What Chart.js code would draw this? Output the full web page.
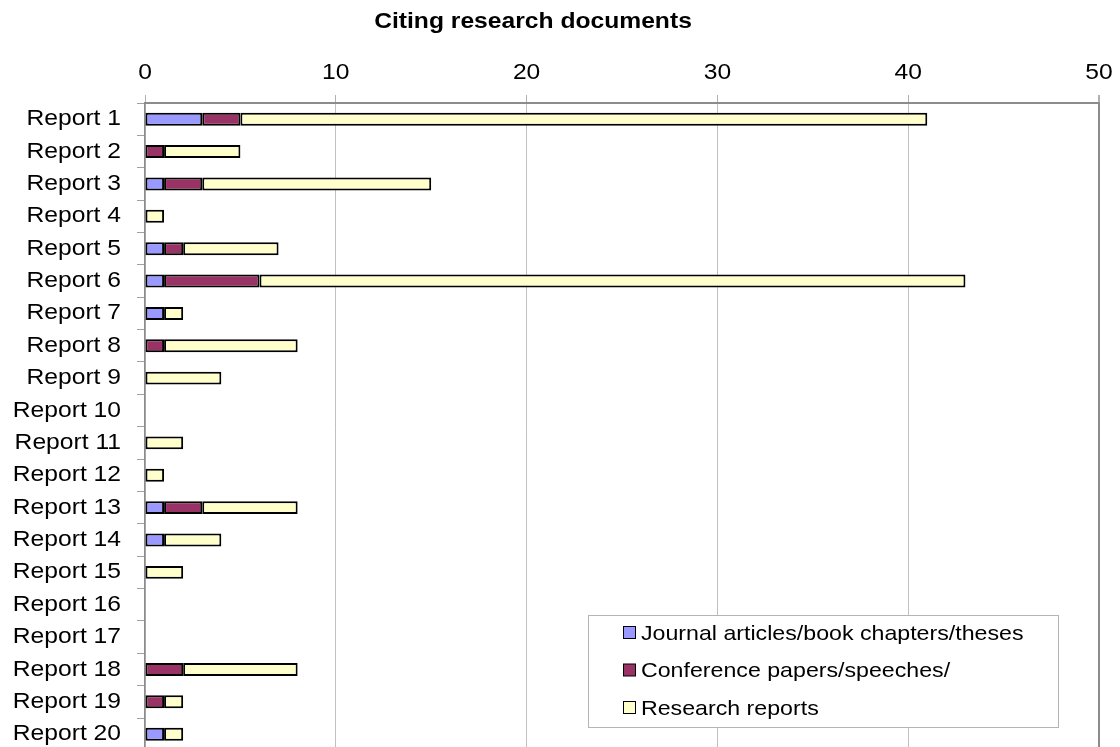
<!DOCTYPE html>
<html>
<head>
<meta charset="utf-8">
<script src="https://cdn.jsdelivr.net/npm/chart.js@4.4.1/dist/chart.umd.min.js"></script>
<style>
  html, body { margin: 0; padding: 0; background: #fff; overflow: hidden; }
  #wrap { width: 1120px; height: 760px; position: relative; }
</style>
</head>
<body>
<div id="wrap"><canvas id="c" width="1120" height="760"></canvas></div>
<script>
// Citing research documents per report, split by document type
const reports = [
  'Report 1', 'Report 2', 'Report 3', 'Report 4', 'Report 5',
  'Report 6', 'Report 7', 'Report 8', 'Report 9', 'Report 10',
  'Report 11', 'Report 12', 'Report 13', 'Report 14', 'Report 15',
  'Report 16', 'Report 17', 'Report 18', 'Report 19', 'Report 20'
];
const journalArticles   = [3, 0, 1, 0, 1, 1, 1, 0, 0, 0, 0, 0, 1, 1, 0, 0, 0, 0, 0, 1];
const conferencePapers  = [2, 1, 2, 0, 1, 5, 0, 1, 0, 0, 0, 0, 2, 0, 0, 0, 0, 2, 1, 0];
const researchReports   = [36, 4, 12, 1, 5, 37, 1, 7, 4, 0, 2, 1, 5, 3, 2, 0, 0, 6, 1, 1];
const seriesNames = [
  'Journal articles/book chapters/theses',
  'Conference papers/speeches/',
  'Research reports'
];
const xTicks = [0, 10, 20, 30, 40, 50];
const chartTitle = 'Citing research documents';

const FONT = '"Liberation Sans", Arial, Helvetica, sans-serif';
const colors = ['#9999FF', '#993366', '#FFFFCC'];
const TEXT_SX = 1.12;   // text is set slightly wide

// empty segments are left out so they leave no outline
const asBars = arr => arr.map(v => (v === 0 ? null : v));

const datasets = [journalArticles, conferencePapers, researchReports].map((vals, i) => ({
  label: seriesNames[i],
  data: asBars(vals),
  backgroundColor: colors[i],
  borderColor: '#000000',
  borderWidth: 2,
  borderSkipped: false,
  barPercentage: 0.8,
  categoryPercentage: 0.5
}));

const canvas = document.getElementById('c');
const ctx2d = canvas.getContext('2d');
// widen every label around its anchor point
(function widenText(ctx) {
  const fill = ctx.fillText;
  ctx.fillText = function (text, x, y, maxWidth) {
    this.save();
    this.translate(x, y);
    this.scale(TEXT_SX, 1);
    if (maxWidth === undefined) fill.call(this, text, 0, 0);
    else fill.call(this, text, 0, 0, maxWidth / TEXT_SX);
    this.restore();
  };
})(ctx2d);

// Title and boxed legend painted on the canvas
const decorations = {
  id: 'decorations',
  afterDraw(chart) {
    const ctx = chart.ctx;
    ctx.save();
    ctx.fillStyle = '#000';
    ctx.font = 'bold 22px ' + FONT;
    ctx.textAlign = 'center';
    ctx.textBaseline = 'middle';
    ctx.fillText(chartTitle, 533, 21.5);

    const bx = 588.5, by = 615.5, bw = 470, bh = 112;
    ctx.fillStyle = '#fff';
    ctx.fillRect(bx, by, bw, bh);
    ctx.strokeStyle = '#b4b4b4';
    ctx.lineWidth = 1;
    ctx.strokeRect(bx, by, bw, bh);

    const rows = [633, 670.5, 708];
    ctx.font = '20.7px ' + FONT;
    ctx.textAlign = 'left';
    ctx.textBaseline = 'middle';
    chart.data.datasets.forEach((ds, i) => {
      const y = rows[i];
      ctx.fillStyle = ds.backgroundColor;
      ctx.fillRect(623.5, y - 6.5, 12, 12);
      ctx.strokeStyle = '#000';
      ctx.lineWidth = 1;
      ctx.strokeRect(623.5, y - 6.5, 12, 12);
      ctx.fillStyle = '#000';
      ctx.fillText(ds.label, 641, y + 1);
    });
    ctx.restore();
  }
};

new Chart(canvas, {
  type: 'bar',
  data: { labels: reports, datasets },
  options: {
    indexAxis: 'y',
    responsive: false,
    animation: false,
    layout: { padding: { top: 0, left: 0, right: 21, bottom: 9.6 } },
    plugins: {
      legend: { display: false },
      title: { display: false },
      tooltip: { enabled: false }
    },
    scales: {
      x: {
        position: 'top',
        stacked: true,
        min: xTicks[0],
        max: xTicks[xTicks.length - 1],
        afterBuildTicks(scale) { scale.ticks = xTicks.map(v => ({ value: v })); },
        afterFit(scale) {
          scale.height = 103;
          scale.paddingLeft = 0;
          scale.paddingRight = 0;
        },
        ticks: {
          color: '#000',
          font: { family: FONT, size: 22 },
          padding: 9,
          maxRotation: 0
        },
        grid: {
          color: ctx => (ctx.index === xTicks.length - 1 ? '#8c8c8c' : '#c0c0c0'),
          lineWidth: ctx => (ctx.index === xTicks.length - 1 ? 2 : 1),
          tickLength: 8,
          tickColor: '#b0b0b0'
        },
        border: { display: true, color: '#8c8c8c', width: 2 }
      },
      y: {
        stacked: true,
        afterFit(scale) {
          scale.width = 145;
          scale.paddingTop = 0;
          scale.paddingBottom = 0;
        },
        ticks: {
          color: '#000',
          font: { family: FONT, size: 22 },
          padding: 16,
          autoSkip: false
        },
        grid: {
          drawOnChartArea: false,
          drawTicks: true,
          tickLength: 8,
          tickColor: '#a0a0a0'
        },
        border: { display: true, color: '#8c8c8c', width: 1.5 }
      }
    }
  },
  plugins: [decorations]
});
</script>
</body>
</html>
